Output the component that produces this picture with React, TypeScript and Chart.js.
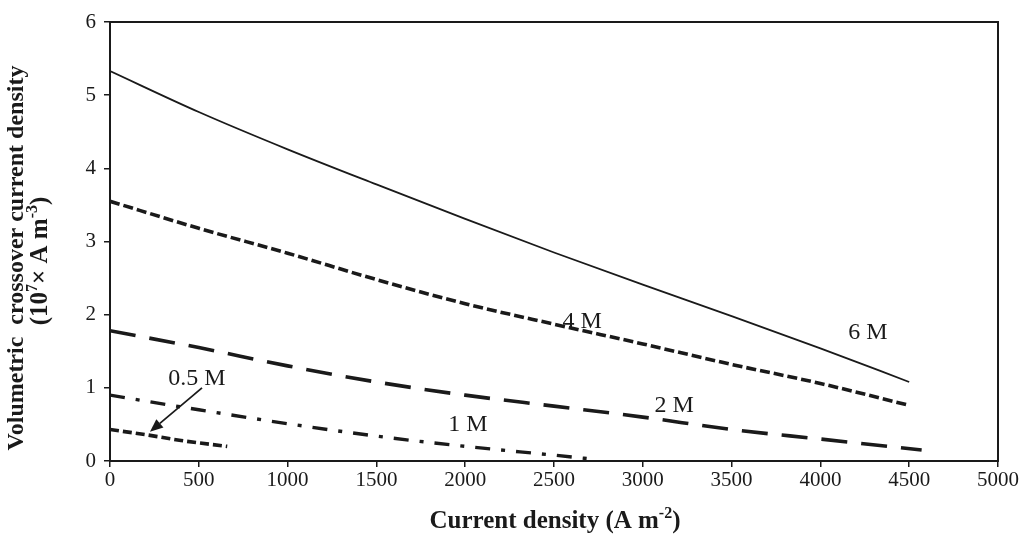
import React, { useEffect, useRef } from "react";
import { Chart, registerables } from "chart.js";

Chart.register(...registerables);

// ---- Data ----
const x6M = [0, 500, 1000, 1500, 2000, 2500, 3000, 3500, 4000, 4500];
const y6M = [5.33, 4.77, 4.26, 3.78, 3.31, 2.85, 2.41, 1.98, 1.54, 1.08];

const x4M = [0, 500, 1000, 1500, 2000, 2500, 3000, 3500, 4000, 4500];
const y4M = [3.55, 3.18, 2.84, 2.48, 2.15, 1.87, 1.6, 1.32, 1.06, 0.76];

const x2M = [0, 500, 1000, 1500, 2000, 2500, 3000, 3500, 4000, 4570];
const y2M = [1.78, 1.55, 1.3, 1.08, 0.9, 0.75, 0.6, 0.43, 0.3, 0.15];

const x1M = [0, 500, 1000, 1500, 2000, 2500, 2740];
const y1M = [0.9, 0.7, 0.51, 0.34, 0.2, 0.08, 0.02];

const x05M = [0, 200, 400, 660];
const y05M = [0.43, 0.36, 0.28, 0.2];

const labelTexts = ["6 M", "4 M", "2 M", "1 M", "0.5 M"];
const labelXs = [4268, 2658, 3176, 2016, 490];
const labelYs = [1.75, 1.9, 0.75, 0.49, 1.13];

// arrow for 0.5 M label (data coords): from -> to
const arrowFrom = [518, 1.0];
const arrowTo = [225, 0.4];

const xTitle = "Current density (A m";
const yTitleLine1 = "Volumetric  crossover current density";

const INK = "#1a1a1a";
const SERIF = '"Liberation Serif", "Times New Roman", serif';

type Seg = { t: string; sup?: boolean };

function drawRich(ctx: CanvasRenderingContext2D, segs: Seg[], cx: number, cy: number, size: number, bold: boolean) {
  const w = bold ? "bold " : "";
  const supSize = Math.round(size * 0.62);
  let total = 0;
  const widths: number[] = [];
  segs.forEach((s) => {
    ctx.font = `${w}${s.sup ? supSize : size}px ${SERIF}`;
    const m = ctx.measureText(s.t).width;
    widths.push(m);
    total += m;
  });
  let x = cx - total / 2;
  ctx.textAlign = "left";
  ctx.textBaseline = "middle";
  segs.forEach((s, i) => {
    ctx.font = `${w}${s.sup ? supSize : size}px ${SERIF}`;
    ctx.fillText(s.t, x, s.sup ? cy - size * 0.33 : cy);
    x += widths[i];
  });
}

const annotPlugin = {
  id: "annot",
  afterDraw(chart: any) {
    const { ctx, chartArea: a, scales } = chart;
    const xs = scales.x;
    const ys = scales.y;
    ctx.save();
    // frame
    ctx.strokeStyle = INK;
    ctx.lineWidth = 2;
    ctx.strokeRect(a.left, a.top, a.right - a.left, a.bottom - a.top);

    // curve labels
    ctx.fillStyle = INK;
    ctx.font = `24px ${SERIF}`;
    ctx.textAlign = "center";
    ctx.textBaseline = "middle";
    labelTexts.forEach((t, i) => {
      ctx.fillText(t, xs.getPixelForValue(labelXs[i]), ys.getPixelForValue(labelYs[i]));
    });

    // arrow
    const fx = xs.getPixelForValue(arrowFrom[0]);
    const fy = ys.getPixelForValue(arrowFrom[1]);
    const tx = xs.getPixelForValue(arrowTo[0]);
    const ty = ys.getPixelForValue(arrowTo[1]);
    const ang = Math.atan2(ty - fy, tx - fx);
    const headLen = 13;
    const headW = 5.5;
    const bx = tx - headLen * Math.cos(ang);
    const by = ty - headLen * Math.sin(ang);
    ctx.strokeStyle = INK;
    ctx.lineWidth = 1.8;
    ctx.beginPath();
    ctx.moveTo(fx, fy);
    ctx.lineTo(bx, by);
    ctx.stroke();
    ctx.beginPath();
    ctx.moveTo(tx, ty);
    ctx.lineTo(bx + headW * Math.sin(ang), by - headW * Math.cos(ang));
    ctx.lineTo(bx - headW * Math.sin(ang), by + headW * Math.cos(ang));
    ctx.closePath();
    ctx.fill();

    // x title
    drawRich(ctx, [{ t: xTitle }, { t: "-2", sup: true }, { t: ")" }], 555, 522, 25, true);

    // y title (two lines, rotated)
    const cyTitle = 258;
    ctx.save();
    ctx.translate(17, cyTitle);
    ctx.rotate(-Math.PI / 2);
    drawRich(ctx, [{ t: yTitleLine1 }], 0, 0, 24, true);
    ctx.restore();
    ctx.save();
    ctx.translate(41, cyTitle + 3);
    ctx.rotate(-Math.PI / 2);
    drawRich(
      ctx,
      [{ t: "(10" }, { t: "7", sup: true }, { t: "× A m" }, { t: "-3", sup: true }, { t: ")" }],
      0,
      0,
      25,
      true
    );
    ctx.restore();

    ctx.restore();
  },
};

function toPts(xs: number[], ys: number[]) {
  return xs.map((x, i) => ({ x, y: ys[i] }));
}

export default function App() {
  const ref = useRef<HTMLCanvasElement | null>(null);

  useEffect(() => {
    if (!ref.current) return;
    const common = {
      pointRadius: 0,
      borderColor: INK,
      fill: false,
      cubicInterpolationMode: "monotone" as const,
    };
    const chart = new Chart(ref.current, {
      type: "line",
      data: {
        datasets: [
          { ...common, label: "6 M", data: toPts(x6M, y6M), borderWidth: 1.8 },
          { ...common, label: "4 M", data: toPts(x4M, y4M), borderWidth: 3.6, borderDash: [10, 4] },
          { ...common, label: "2 M", data: toPts(x2M, y2M), borderWidth: 3.6, borderDash: [26, 14] },
          { ...common, label: "1 M", data: toPts(x1M, y1M), borderWidth: 3.4, borderDash: [15, 11, 4, 11] },
          { ...common, label: "0.5 M", data: toPts(x05M, y05M), borderWidth: 3.6, borderDash: [9, 4] },
        ],
      },
      options: {
        responsive: false,
        animation: false,
        layout: { padding: { top: 22, right: 26, left: 0, bottom: 0 } },
        plugins: { legend: { display: false }, tooltip: { enabled: false } },
        scales: {
          x: {
            type: "linear",
            min: 0,
            max: 5000,
            ticks: {
              stepSize: 500,
              color: INK,
              font: { family: SERIF, size: 21 },
              padding: 1,
              maxRotation: 0,
              callback: (v: any) => String(v),
            },
            grid: { display: true, drawOnChartArea: false, drawTicks: true, tickLength: 6, color: INK, lineWidth: 1.5 },
            border: { display: true, color: INK, width: 2 },
            afterFit: (s: any) => {
              s.height = 75;
            },
          },
          y: {
            type: "linear",
            min: 0,
            max: 6,
            ticks: {
              stepSize: 1,
              color: INK,
              font: { family: SERIF, size: 21 },
              padding: 8,
              callback: (v: any) => String(v),
            },
            grid: { display: true, drawOnChartArea: false, drawTicks: true, tickLength: 6, color: INK, lineWidth: 1.5 },
            border: { display: true, color: INK, width: 2 },
            afterFit: (s: any) => {
              s.width = 110;
            },
          },
        },
      },
      plugins: [annotPlugin],
    });
    return () => chart.destroy();
  }, []);

  return (
    <div style={{ position: "absolute", left: 0, top: 0, width: 1024, height: 536, background: "#fff" }}>
      <canvas ref={ref} width={1024} height={536} style={{ display: "block" }} />
    </div>
  );
}
